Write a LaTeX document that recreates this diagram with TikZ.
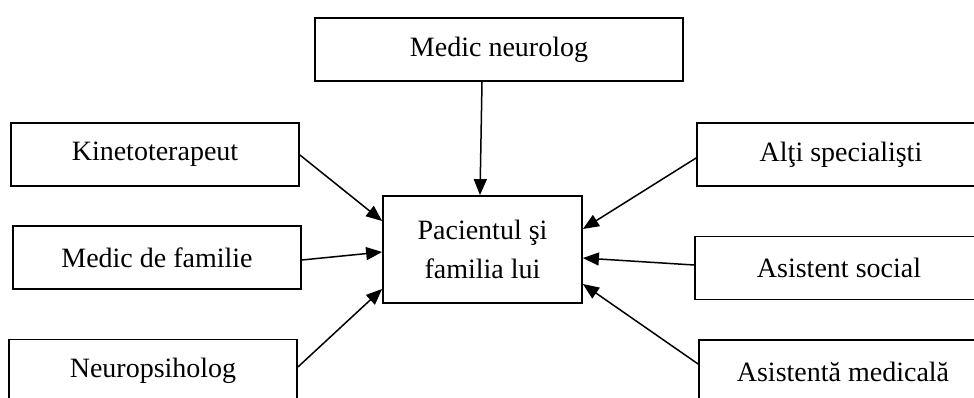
\documentclass[tikz,border=0pt]{standalone}
\usepackage{fontspec}
\setmainfont{Liberation Serif}
\usetikzlibrary{arrows.meta}
\begin{document}
\begin{tikzpicture}[x=1pt, y=-1pt,
	box/.style={draw, line width=1.8pt, minimum width=288pt, minimum height=63pt, inner sep=0pt, font=\fontsize{28pt}{39pt}\selectfont},
	arr/.style={line width=1.5pt, -{Triangle[length=16pt,width=13pt]}}]
	\useasboundingbox (0,0) rectangle (974,398);
	\clip (0,0) rectangle (974,398);
	\node [box, minimum width=368pt] (neuro) at (499,49.5) {Medic neurolog};
	\node [box] (kineto) at (155,154.5) {Kinetoterapeut};
	\node [box] (famil) at (157,257.5) {Medic de familie};
	\node [box] (neuropsi) at (153,371) {Neuropsiholog};
	\node [box, minimum width=199pt, minimum height=107pt, align=center] (pac) at (482.5,249.5) {Pacientul şi\\familia lui};
	\node [box] (alti) at (841,154.5) {Alţi specialişti};
	\node [box] (social) at (839,268) {Asistent social};
	\node [box] (asist) at (843,371.5) {Asistentă medicală};
	\draw [arr] ([xshift=-17pt]neuro.south) -- ([xshift=-2.5pt]pac.north);
	\draw [arr] ([yshift=-0.5pt]kineto.east) -- ([yshift=28.5pt]pac.west);
	\draw [arr] ([yshift=-2.5pt]famil.east) -- ([yshift=-2.5pt]pac.west);
	\draw [arr] ([yshift=4pt]neuropsi.east) -- ([yshift=-39.5pt]pac.west);
	\draw [arr] ([yshift=-3.5pt]alti.west) -- ([yshift=20.5pt]pac.east);
	\draw [arr] ([yshift=3pt]social.west) -- ([yshift=-8.5pt]pac.east);
	\draw [arr] ([yshift=7.5pt]asist.west) -- ([yshift=-34.5pt]pac.east);
\end{tikzpicture}
\end{document}
